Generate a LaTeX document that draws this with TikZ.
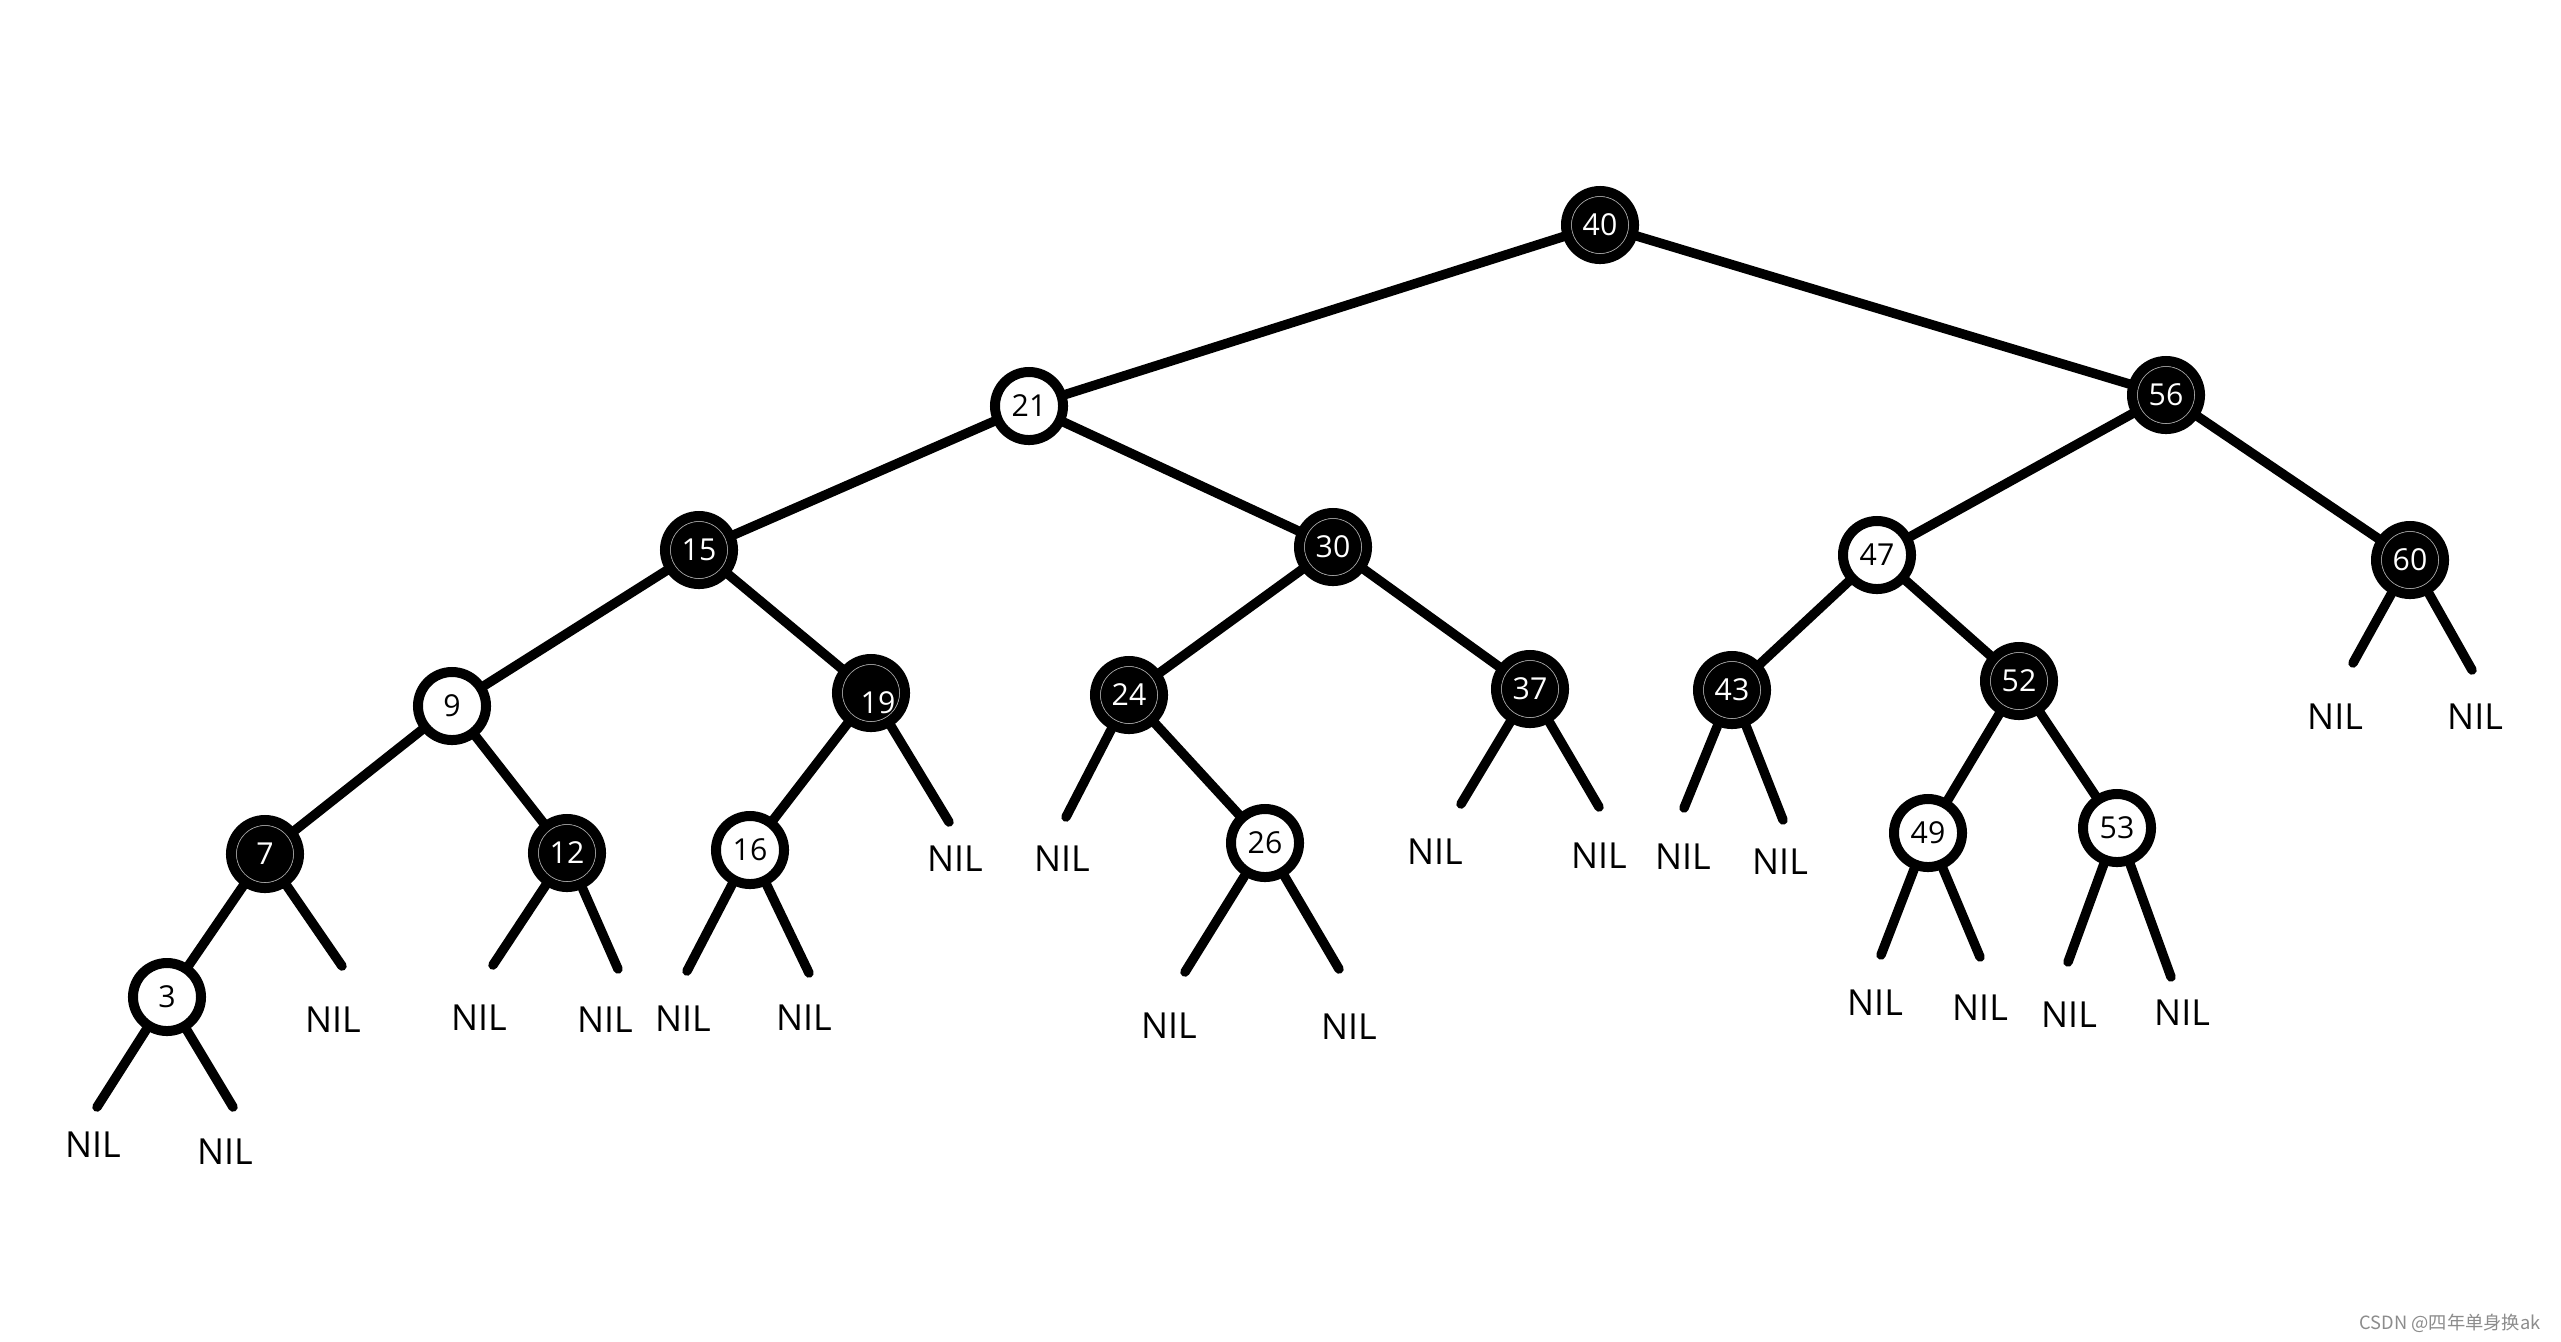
\documentclass[tikz,border=0pt]{standalone}
\usepackage{fontspec}
\setmainfont{Open Sans}
\newfontfamily\cjk{Noto Sans CJK SC}
\usetikzlibrary{backgrounds}
\begin{document}
\begin{tikzpicture}[x=0.01cm,y=-0.01cm,
  rb/.style={circle, minimum size=0.68cm, inner sep=0pt, line width=0.1cm, font=\fontsize{8.6}{10}\selectfont},
  blk/.style={rb, draw=black, fill=black, text=white,
    path picture={\draw[black!35, line width=0.3pt] (path picture bounding box.center) circle (0.287cm);}},
  wht/.style={rb, draw=black, fill=white, text=black},
  edge/.style={line width=0.095cm, line cap=round},
  nil/.style={font=\fontsize{10.2}{12}\selectfont, inner sep=0pt}]
\useasboundingbox (0,0) rectangle (2561,1341);

% tree nodes
\node[blk] (n40) at (1600,225) {40};
\node[wht] (n21) at (1029,406) {21};
\node[blk] (n56) at (2166,395) {56};
\node[blk] (n15) at (699,550) {15};
\node[blk] (n30) at (1333,547) {30};
\node[wht] (n47) at (1877,555) {47};
\node[blk] (n60) at (2410,560) {60};
\node[wht] (n9)  at (452,706) {9};
\node[blk, label={[text=white, font=\fontsize{8.6}{10}\selectfont, xshift=0.07cm, yshift=-0.1cm]center:19}] (n19) at (871,693) {};
\node[blk] (n24) at (1129,695) {24};
\node[blk] (n37) at (1530,689) {37};
\node[blk] (n43) at (1732,690) {43};
\node[blk] (n52) at (2019,681) {52};
\node[blk] (n7)  at (265,854) {7};
\node[blk] (n12) at (567,853) {12};
\node[wht] (n16) at (750,850) {16};
\node[wht] (n26) at (1265,843) {26};
\node[wht] (n49) at (1928,833) {49};
\node[wht] (n53) at (2117,828) {53};
\node[wht] (n3)  at (167,997) {3};

% NIL leaf ends
\coordinate (e3l) at (97,1107);   \coordinate (e3r) at (233,1107);
\coordinate (e7r) at (342,966);
\coordinate (e12l) at (493,965);  \coordinate (e12r) at (618,969);
\coordinate (e16l) at (687,971);  \coordinate (e16r) at (809,973);
\coordinate (e19r) at (949,822);
\coordinate (e24l) at (1066,817);
\coordinate (e26l) at (1185,972); \coordinate (e26r) at (1339,969);
\coordinate (e37l) at (1461,804); \coordinate (e37r) at (1599,807);
\coordinate (e43l) at (1684,808); \coordinate (e43r) at (1783,820);
\coordinate (e49l) at (1881,955); \coordinate (e49r) at (1980,957);
\coordinate (e53l) at (2068,962); \coordinate (e53r) at (2171,977);
\coordinate (e60l) at (2353,663); \coordinate (e60r) at (2472,670);

% NIL labels
\node[nil] (l3l) at (93,1145) {NIL};   \node[nil] (l3r) at (225,1152) {NIL};
\node[nil] (l7r) at (333,1020) {NIL};
\node[nil] (l12l) at (479,1018) {NIL}; \node[nil] (l12r) at (605,1020) {NIL};
\node[nil] (l16l) at (683,1019) {NIL}; \node[nil] (l16r) at (804,1018) {NIL};
\node[nil] (l19r) at (955,859) {NIL};
\node[nil] (l24l) at (1062,859) {NIL};
\node[nil] (l26l) at (1169,1026) {NIL}; \node[nil] (l26r) at (1349,1027) {NIL};
\node[nil] (l37l) at (1435,852) {NIL}; \node[nil] (l37r) at (1599,856) {NIL};
\node[nil] (l43l) at (1683,857) {NIL}; \node[nil] (l43r) at (1780,862) {NIL};
\node[nil] (l49l) at (1875,1003) {NIL}; \node[nil] (l49r) at (1980,1008) {NIL};
\node[nil] (l53l) at (2069,1015) {NIL}; \node[nil] (l53r) at (2182,1013) {NIL};
\node[nil] (l60l) at (2335,717) {NIL}; \node[nil] (l60r) at (2475,717) {NIL};

% watermark
\node[font=\cjk\fontsize{5.2}{6}\selectfont, text=black!45, inner sep=0pt] (wm) at (2450,1323) {CSDN @四年单身换ak};

\begin{pgfonlayer}{background}
\fill[white] (0,0) rectangle (2561,1341);
\draw[edge] (n40.center) -- (n21.center);
\draw[edge] (n40.center) -- (n56.center);
\draw[edge] (n21.center) -- (n15.center);
\draw[edge] (n21.center) -- (n30.center);
\draw[edge] (n56.center) -- (n47.center);
\draw[edge] (n56.center) -- (n60.center);
\draw[edge] (n15.center) -- (n9.center);
\draw[edge] (n15.center) -- (n19.center);
\draw[edge] (n30.center) -- (n24.center);
\draw[edge] (n30.center) -- (n37.center);
\draw[edge] (n47.center) -- (n43.center);
\draw[edge] (n47.center) -- (n52.center);
\draw[edge] (n9.center) -- (n7.center);
\draw[edge] (n9.center) -- (n12.center);
\draw[edge] (n19.center) -- (n16.center);
\draw[edge] (n24.center) -- (n26.center);
\draw[edge] (n52.center) -- (n49.center);
\draw[edge] (n52.center) -- (n53.center);
\draw[edge] (n7.center) -- (n3.center);
% NIL connectors
\draw[edge] (n3) -- (e3l);   \draw[edge] (n3) -- (e3r);
\draw[edge] (n7) -- (e7r);
\draw[edge] (n12) -- (e12l); \draw[edge] (n12) -- (e12r);
\draw[edge] (n16) -- (e16l); \draw[edge] (n16) -- (e16r);
\draw[edge] (n19) -- (e19r);
\draw[edge] (n24) -- (e24l);
\draw[edge] (n26) -- (e26l); \draw[edge] (n26) -- (e26r);
\draw[edge] (n37) -- (e37l); \draw[edge] (n37) -- (e37r);
\draw[edge] (n43) -- (e43l); \draw[edge] (n43) -- (e43r);
\draw[edge] (n49) -- (e49l); \draw[edge] (n49) -- (e49r);
\draw[edge] (n53) -- (e53l); \draw[edge] (n53) -- (e53r);
\draw[edge] (n60) -- (e60l); \draw[edge] (n60) -- (e60r);
\end{pgfonlayer}
\end{tikzpicture}
\end{document}
